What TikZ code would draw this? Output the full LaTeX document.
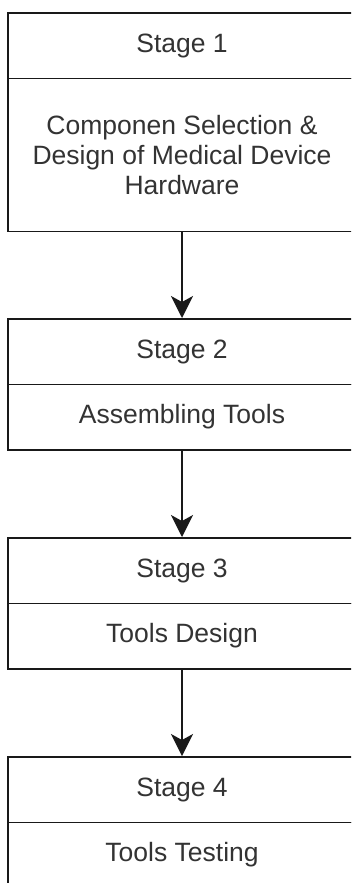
\documentclass[tikz,border=0pt]{standalone}
\usepackage{fontspec}
\setmainfont{Liberation Sans}
\usetikzlibrary{arrows.meta}
\begin{document}
\begin{tikzpicture}[x=1pt,y=1pt,
  box/.style={draw=black!90, line width=1.6pt, minimum width=348pt, inner sep=0pt,
    text=black!80, font=\fontsize{26.5}{30}\selectfont, align=center, anchor=north},
  head/.style={box, minimum height=65.5pt},
  body/.style={box, minimum height=65.5pt},
  flow/.style={-{Stealth[length=22pt,width=22pt,inset=6pt]}, line width=1.6pt, draw=black!90}
]
\useasboundingbox (0,0) rectangle (351,-883);
\fill[white] (0,0) rectangle (351,-883);
\clip (0,0) rectangle (351,-883);

% Stage 1
\node[head] (h1) at (182,-12) {Stage 1};
\node[box, minimum height=153pt] (b1) at (182,-77.5) {Componen Selection \&\\Design of Medical Device\\Hardware};

% Stage 2
\node[head] (h2) at (182,-318) {Stage 2};
\node[body] (b2) at (182,-383.5) {Assembling Tools};

% Stage 3
\node[head] (h3) at (182,-537) {Stage 3};
\node[body] (b3) at (182,-602.5) {Tools Design};

% Stage 4
\node[head] (h4) at (182,-756) {Stage 4};
\node[body] (b4) at (182,-821.5) {Tools Testing};

% Flow between stages
\draw[flow] (b1.south) -- (h2.north);
\draw[flow] (b2.south) -- (h3.north);
\draw[flow] (b3.south) -- (h4.north);
\end{tikzpicture}
\end{document}
